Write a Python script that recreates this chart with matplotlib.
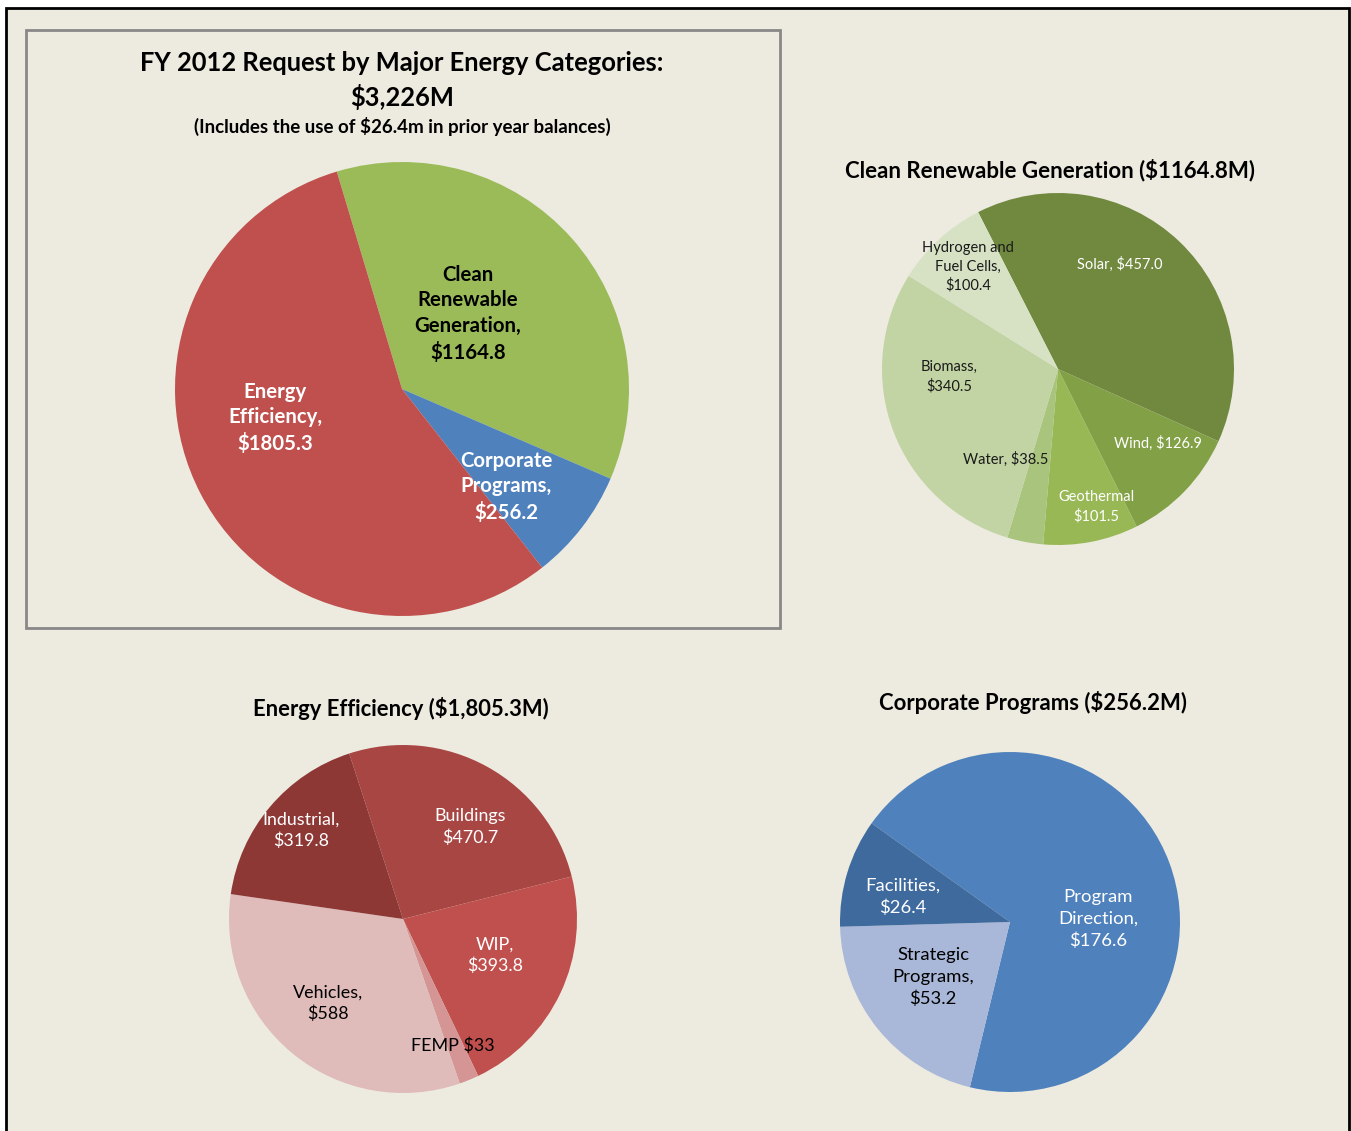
"""FY 2012 energy request - pies by category"""
import matplotlib.pyplot as plt
from matplotlib.patches import Rectangle

plt.rcParams["font.family"] = ["Lato", "DejaVu Sans"]

# main pie
main_labels = ["Clean\nRenewable\nGeneration,\n$1164.8", "Corporate\nPrograms,\n$256.2",
               "Energy\nEfficiency,\n$1805.3"]
main_values = [1164.8, 256.2, 1805.3]

# clean renewable generation
crg_labels = ["Solar, $457.0", "Wind, $126.9", "Geothermal\n$101.5", "Water, $38.5",
              "Biomass,\n$340.5", "Hydrogen and\nFuel Cells,\n$100.4"]
crg_values = [457.0, 126.9, 101.5, 38.5, 340.5, 100.4]

# energy efficiency
ee_labels = ["Buildings\n$470.7", "WIP,\n$393.8", "FEMP $33", "Vehicles,\n$588", "Industrial,\n$319.8"]
ee_values = [470.7, 393.8, 33, 588, 319.8]

# corporate programs
cp_labels = ["Program\nDirection,\n$176.6", "Strategic\nPrograms,\n$53.2", "Facilities,\n$26.4"]
cp_values = [176.6, 53.2, 26.4]

W, H = 1351, 1131
BG = "#EDEBE0"


def Y(y):
    return H - y  # pixel row -> data y


fig = plt.figure(figsize=(W / 100, H / 100), dpi=100, facecolor="white")
ax = fig.add_axes([0, 0, 1, 1])
ax.add_patch(Rectangle((6, -10), 1343, Y(7.5) + 10, facecolor=BG, edgecolor="black", lw=2, zorder=0))
ax.add_patch(Rectangle((26, Y(628)), 754, 598, facecolor="none", edgecolor="#888888", lw=2, zorder=1))


def draw_pie(values, colors, start, center, r, labels, pos, tcolors, size, weight="normal", ls=1.38):
    ax.pie(values, colors=colors, startangle=start, counterclock=False,
           center=(center[0], Y(center[1])), radius=r, frame=True,
           wedgeprops=dict(linewidth=0))
    for lab, (px, py), c in zip(labels, pos, tcolors):
        ax.text(px, Y(py), lab, ha="center", va="center", color=c, fontsize=size,
                fontweight=weight, linespacing=ls)


draw_pie(main_values, ["#9BBB59", "#4F81BD", "#C0504D"], 106.7, (402, 389), 227,
         main_labels, [(468, 314), (506, 487), (275, 418)], ["black", "white", "white"], 14.7, "bold", 1.36)

draw_pie(crg_values, ["#71893F", "#82A046", "#98B855", "#A9C47C", "#C2D4A3", "#D7E2C5"], 117,
         (1058, 369), 176, crg_labels,
         [(1120, 264), (1158, 443), (1096, 507), (1006, 459), (949, 377), (968, 267)],
         ["white", "white", "white", "#1a1a1a", "#1a1a1a", "#1a1a1a"], 10.5, ls=1.42)

draw_pie(ee_values, ["#A84644", "#C0504D", "#D49594", "#DFBBBA", "#8E3836"], 108,
         (403, 919), 174, ee_labels,
         [(470, 827), (495, 955), (453, 1046), (328, 1003), (301, 830)],
         ["white", "white", "black", "black", "white"], 12.9, ls=1.37)

draw_pie(cp_values, ["#4F81BD", "#A9B8D8", "#3F6A9E"], 144.5, (1010, 922), 170, cp_labels,
         [(1098, 919), (933, 977), (903, 897)], ["white", "black", "white"], 13.3, ls=1.41)

# titles
ax.text(402, Y(63), "FY 2012 Request by Major Energy Categories:", ha="center", va="center",
        fontsize=18.4, fontweight="bold")
ax.text(402, Y(97), "$3,226M", ha="center", va="center", fontsize=18.4, fontweight="bold")
ax.text(402, Y(126), "(Includes the use of $26.4m in prior year balances)", ha="center", va="center",
        fontsize=13.5, fontweight="bold")
ax.text(1050, Y(170), "Clean Renewable Generation ($1164.8M)", ha="center", va="center",
        fontsize=16, fontweight="bold")
ax.text(401, Y(708), "Energy Efficiency ($1,805.3M)", ha="center", va="center",
        fontsize=15.8, fontweight="bold")
ax.text(1033, Y(703), "Corporate Programs ($256.2M)", ha="center", va="center",
        fontsize=15.9, fontweight="bold")

ax.set_xlim(0, W)
ax.set_ylim(0, H)
ax.axis("off")
plt.savefig("out.png", dpi=100, facecolor="white")
